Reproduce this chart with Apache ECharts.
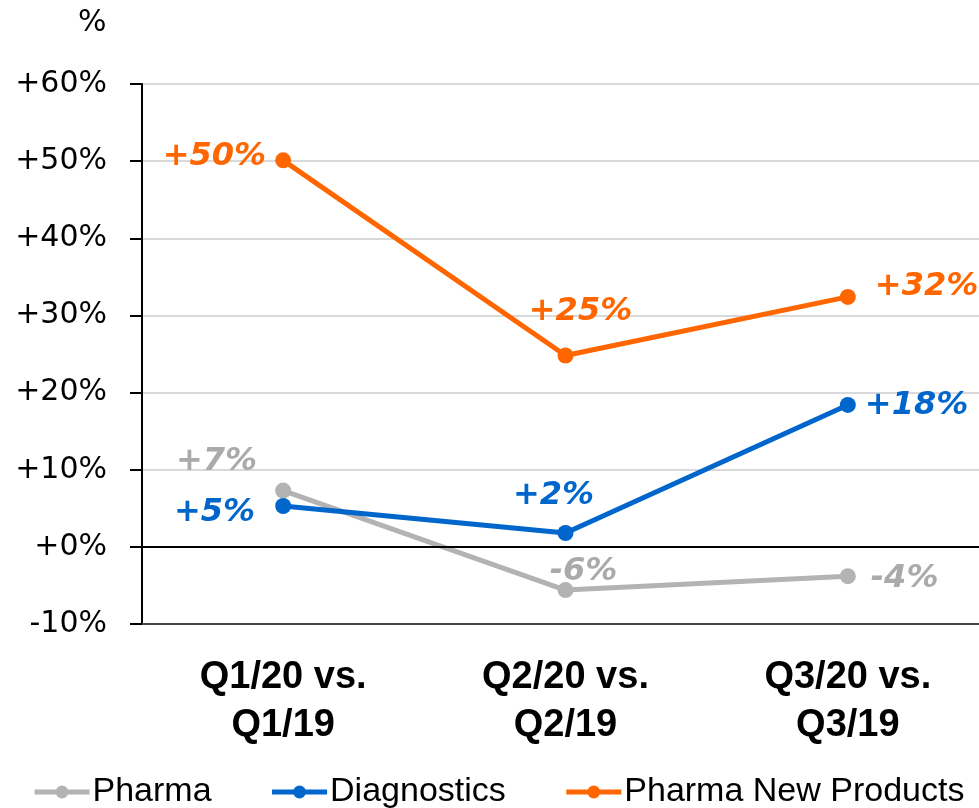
<!DOCTYPE html>
<html>
<head>
<meta charset="utf-8">
<script src="https://cdn.jsdelivr.net/npm/echarts@6/dist/echarts.min.js"></script>
<style>
  html, body { margin: 0; padding: 0; background: #fff; }
  #chart { width: 979px; height: 808px; }
</style>
</head>
<body>
<div id="chart"></div>
<script>
const categories = ['Q1/20 vs.\nQ1/19', 'Q2/20 vs.\nQ2/19', 'Q3/20 vs.\nQ3/19']
const pharma = [7.3, -5.6, -3.8]
const diagnostics = [5.3, 1.8, 18.4]
const pharmaNew = [50.1, 24.8, 32.4]
const pharmaLabels = ['+7%', '-6%', '-4%']
const diagLabels = ['+5%', '+2%', '+18%']
const newLabels = ['+50%', '+25%', '+32%']

const labelFont = 'DejaVu Sans'

// per-point label placement
const pharmaPos = [
  { position: 'left', distance: 18, offset: [0, -29] },
  { position: 'top', distance: 2, offset: [18, 8] },
  { position: 'right', distance: 15, offset: [0, 3] }
]
const diagPos = [
  { position: 'left', distance: 20, offset: [0, 7] },
  { position: 'top', distance: 14, offset: [-12, 1] },
  { position: 'right', distance: 9, offset: [0, 1] }
]
const newPos = [
  { position: 'left', distance: 9, offset: [0, -4] },
  { position: 'top', distance: 22, offset: [15, 2] },
  { position: 'right', distance: 19, offset: [0, -10] }
]

const makeData = (vals, labels, pos, color) => vals.map((v, i) => ({
  value: v,
  label: {
    show: true,
    formatter: labels[i],
    position: pos[i].position,
    distance: pos[i].distance,
    offset: pos[i].offset,
    color: color,
    fontFamily: labelFont,
    fontWeight: 'bold',
    fontStyle: 'italic',
    fontSize: 32
  }
}))

const makeSeries = (name, vals, labels, pos, color, labelColor, z) => ({
  name: name,
  type: 'line',
  data: makeData(vals, labels, pos, labelColor),
  symbol: 'circle',
  symbolSize: 16,
  z: z,
  lineStyle: { width: 5, color: color },
  itemStyle: { color: color },
  emphasis: { disabled: true }
})

const chart = echarts.init(document.getElementById('chart'))

const series = [
  makeSeries('Pharma', pharma, pharmaLabels, pharmaPos, '#b3b3b3', '#aaaaaa', 2),
  makeSeries('Diagnostics', diagnostics, diagLabels, diagPos, '#0066cc', '#0066cc', 3),
  makeSeries('Pharma New Products', pharmaNew, newLabels, newPos, '#ff6600', '#ff6600', 4)
]
series[0].markLine = {
  silent: true,
  symbol: 'none',
  label: { show: false },
  lineStyle: { color: '#000', width: 2, type: 'solid' },
  data: [{ yAxis: 0 }]
}

chart.setOption({
  animation: false,
  title: {
    text: '%',
    left: 73,
    top: 3,
    textStyle: { fontFamily: 'DejaVu Sans', fontWeight: 'normal', fontSize: 30, color: '#000' }
  },
  grid: {
    left: 142,
    width: 847,
    top: 84,
    bottom: 184,
    containLabel: false,
    outerBoundsMode: 'none'
  },
  xAxis: {
    type: 'category',
    data: categories,
    axisLine: { onZero: false, lineStyle: { color: '#444', width: 2 } },
    axisTick: { show: false },
    axisLabel: {
      margin: 30,
      color: '#000',
      fontFamily: 'Liberation Sans',
      fontWeight: 'bold',
      fontSize: 38,
      lineHeight: 48
    }
  },
  yAxis: {
    type: 'value',
    min: -10,
    max: 60,
    interval: 10,
    axisLine: { show: true, lineStyle: { color: '#000', width: 2 } },
    axisTick: { show: true, length: 12, lineStyle: { color: '#000', width: 2 } },
    splitLine: { lineStyle: { color: '#d9d9d9', width: 2 } },
    axisLabel: {
      margin: 35,
      color: '#000',
      fontFamily: 'DejaVu Sans',
      fontSize: 30,
      formatter: (v) => (v >= 0 ? '+' : '') + v + '%'
    }
  },
  legend: {
    bottom: -6,
    left: 27,
    itemWidth: 55,
    itemHeight: 16,
    itemGap: 58,
    lineStyle: { width: 5 },
    textStyle: {
      fontFamily: 'Liberation Sans',
      fontSize: 34,
      color: '#000',
      padding: [0, 0, 0, -2]
    },
    data: ['Pharma', 'Diagnostics', 'Pharma New Products']
  },
  series: series
})
</script>
</body>
</html>
